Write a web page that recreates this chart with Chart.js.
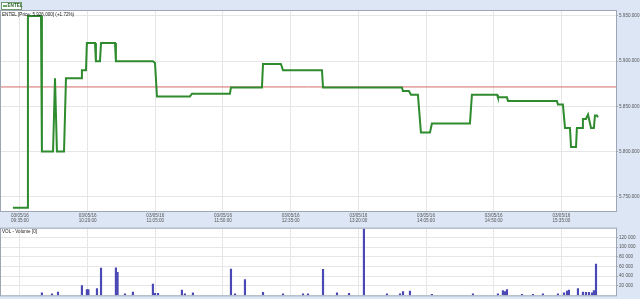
<!DOCTYPE html>
<html>
<head>
<meta charset="utf-8">
<script src="https://cdn.jsdelivr.net/npm/chart.js@4.4.1/dist/chart.umd.min.js"></script>
<style>
    html, body { margin: 0; padding: 0; background: #dce6f5; }
    #wrap { position: relative; width: 640px; height: 299px; overflow: hidden; }
    canvas { position: absolute; left: 0; }
    #priceChart { top: 0; }
    #volumeChart { top: 225px; }
</style>
</head>
<body>
<div id="wrap">
    <canvas id="priceChart" width="640" height="226"></canvas>
    <canvas id="volumeChart" width="640" height="74"></canvas>
</div>
<script>
// times are minutes since midnight, 03/05/16
const tradeDate = '03/05/16';
const tickTimes = [575, 620, 665, 710, 755, 800, 845, 890, 935];
const priceTicks = [5750, 5800, 5850, 5900, 5950];
const volumeTicks = [20000, 40000, 60000, 80000, 100000, 120000];

const priceTimes = [
    570.3, 579.7, 580.3, 589.0, 589.6, 597.0, 598.3, 599.6, 604.3, 605.6,
    615.6, 616.2, 618.9, 619.5, 624.9, 625.5, 628.2, 628.9, 638.2, 638.8,
    663.4, 664.8, 666.1, 688.0, 689.4, 714.6, 715.3, 735.9, 736.6, 748.5,
    749.9, 775.8, 776.5, 829.0, 829.6, 833.6, 835.0, 839.6, 841.6, 847.6,
    848.9, 874.2, 875.5, 892.2, 892.8, 898.8, 899.5, 932.0, 932.7, 936.0,
    937.4, 940.7, 941.4, 944.7, 945.3, 948.7, 949.3, 951.3, 952.7, 953.3,
    954.7, 956.6, 957.3, 958.6, 959.3
];
const prices = [
    5738, 5738, 5950, 5950, 5800, 5800, 5881, 5800, 5800, 5881,
    5881, 5890, 5890, 5920, 5920, 5900, 5900, 5920, 5920, 5900,
    5900, 5898, 5861, 5861, 5864, 5864, 5871, 5871, 5897, 5897,
    5890, 5890, 5871, 5871, 5867, 5867, 5863, 5863, 5821, 5821,
    5831, 5831, 5863, 5863, 5860, 5860, 5856, 5856, 5852, 5852,
    5826, 5826, 5805, 5805, 5826, 5826, 5836, 5836, 5841, 5841,
    5826, 5826, 5840, 5840, 5838
];
const refPrice = 5871.5;

const volumeTimes = [
    589.6, 596.3, 600.3, 616.2, 619.5, 620.5, 626.2, 628.9, 638.8, 639.9,
    644.8, 650.1, 663.4, 664.8, 666.8, 682.7, 684.7, 690.0, 715.3, 718.0,
    724.6, 736.6, 749.9, 763.2, 766.5, 776.5, 785.8, 793.8, 803.7, 819.0,
    827.7, 829.7, 834.3, 848.9, 876.2, 892.8, 896.1, 897.5, 898.8, 908.8,
    916.1, 922.7, 932.7, 936.7, 938.7, 940.0, 946.0, 949.3, 951.3, 953.3,
    955.3, 956.6, 958.0
];
const volumes = [
    5000, 3000, 7000, 20000, 12000, 12000, 14000, 56600, 57000, 47700,
    3000, 7000, 23400, 4000, 4000, 11000, 3000, 5000, 54500, 3000,
    32800, 6000, 3000, 3000, 3000, 53800, 5000, 4000, 140000, 3000,
    3000, 8000, 9000, 2000, 3000, 3000, 10000, 8000, 12000, 2000,
    2000, 3000, 3000, 5000, 9000, 11000, 14000, 7000, 6000, 6000,
    5000, 10000, 64700
];

const xMin = 562.4;
const xMax = 971.3;
const fontFamily = '"Liberation Sans", Arial, sans-serif';
const tinyFont = { family: fontFamily, size: 4.6, lineHeight: 1.15 };
const gridColor = '#e6e6e6';

function formatTime(minutes) {
    const h = Math.floor(minutes / 60);
    const m = Math.round(minutes % 60);
    return `${String(h).padStart(2, '0')}:${String(m).padStart(2, '0')}:00`;
}

function formatPrice(value) {
    const thousands = Math.floor(value / 1000);
    const rest = String(value % 1000).padStart(3, '0');
    return `${thousands}.${rest}.000`;
}

function formatVolume(value) {
    return value.toLocaleString('en-US').replace(/,/g, ' ');
}

const panelFrame = {
    id: 'panelFrame',
    beforeDraw(chart) {
        const { ctx, chartArea: a } = chart;
        ctx.save();
        ctx.fillStyle = '#ffffff';
        ctx.fillRect(a.left, a.top, a.right - a.left, a.bottom - a.top);
        ctx.restore();
    },
    afterDraw(chart, args, opts) {
        const { ctx, chartArea: a } = chart;
        ctx.save();
        ctx.strokeStyle = '#9ea6b4';
        ctx.lineWidth = 1;
        ctx.strokeRect(a.left - 0.5, a.top - 0.5, a.right - a.left + 1, a.bottom - a.top + 1);
        ctx.fillStyle = '#222222';
        ctx.font = `4.6px ${fontFamily}`;
        ctx.textBaseline = 'middle';
        ctx.fillText(opts.title, a.left + 1, a.top + 3.5);
        ctx.restore();
    }
};

const legendBox = {
    id: 'legendBox',
    afterDraw(chart) {
        const ctx = chart.ctx;
        const ds = chart.data.datasets[0];
        ctx.save();
        ctx.fillStyle = '#ffffff';
        ctx.fillRect(1.5, 2.5, 20, 7);
        ctx.strokeStyle = '#6f9a6f';
        ctx.lineWidth = 1;
        ctx.strokeRect(1.5, 2.5, 20, 7);
        ctx.strokeStyle = ds.borderColor;
        ctx.lineWidth = 1.5;
        ctx.beginPath();
        ctx.moveTo(3, 6);
        ctx.lineTo(7, 6);
        ctx.stroke();
        ctx.fillStyle = '#1f5f1f';
        ctx.font = `bold 4.6px ${fontFamily}`;
        ctx.textBaseline = 'middle';
        ctx.fillText(ds.label, 7.5, 6.2);
        ctx.restore();
    }
};

new Chart(document.getElementById('priceChart'), {
    type: 'line',
    data: {
        datasets: [
            {
                label: 'ENTEL',
                data: priceTimes.map((t, i) => ({ x: t, y: prices[i] })),
                borderColor: '#2e8b2e',
                borderWidth: 2,
                pointRadius: 0,
                tension: 0,
                order: 1,
            },
            {
                label: 'Reference',
                data: [{ x: xMin, y: refPrice }, { x: xMax, y: refPrice }],
                borderColor: '#d46a6a',
                borderWidth: 1,
                pointRadius: 0,
                order: 2,
            },
        ],
    },
    options: {
        responsive: false,
        animation: false,
        layout: { padding: { top: 11, left: 1, right: 0, bottom: 0 } },
        plugins: {
            legend: { display: false },
            tooltip: { enabled: false },
            panelFrame: { title: 'ENTEL [Price: 5.926,000] (+1.72%)' },
        },
        scales: {
            x: {
                type: 'linear',
                min: xMin,
                max: xMax,
                afterBuildTicks: (scale) => { scale.ticks = tickTimes.map((v) => ({ value: v })); },
                afterFit: (scale) => { scale.height = 15; },
                ticks: {
                    callback: (value) => [tradeDate, formatTime(value)],
                    font: tinyFont,
                    color: '#555555',
                    padding: 2,
                    maxRotation: 0,
                    autoSkip: false,
                },
                grid: { color: gridColor, drawTicks: false },
                border: { display: false },
            },
            y: {
                position: 'right',
                min: 5734.3,
                max: 5955.5,
                afterBuildTicks: (scale) => { scale.ticks = priceTicks.map((v) => ({ value: v })); },
                afterFit: (scale) => { scale.width = 24; },
                ticks: {
                    callback: (value) => formatPrice(value),
                    font: tinyFont,
                    color: '#555555',
                    padding: 1,
                },
                grid: { color: gridColor, tickLength: 2, tickColor: '#9ea6b4' },
                border: { display: false },
            },
        },
    },
    plugins: [panelFrame, legendBox],
});

new Chart(document.getElementById('volumeChart'), {
    type: 'bar',
    data: {
        datasets: [
            {
                label: 'VOL - Volume [0]',
                data: volumeTimes.map((t, i) => ({ x: t, y: volumes[i] })),
                backgroundColor: '#4a48b4',
                barThickness: 1.5,
            },
        ],
    },
    options: {
        responsive: false,
        animation: false,
        layout: { padding: { top: 1, left: 1, right: 0, bottom: 3 } },
        plugins: {
            legend: { display: false },
            tooltip: { enabled: false },
            panelFrame: { title: 'VOL - Volume [0]' },
        },
        scales: {
            x: {
                type: 'linear',
                min: xMin,
                max: xMax,
                offset: false,
                afterBuildTicks: (scale) => { scale.ticks = tickTimes.map((v) => ({ value: v })); },
                afterFit: (scale) => { scale.height = 0; },
                ticks: { display: false },
                grid: { color: gridColor, drawTicks: false, offset: false },
                border: { display: false },
            },
            y: {
                position: 'right',
                min: 0,
                max: 138000,
                afterBuildTicks: (scale) => { scale.ticks = volumeTicks.map((v) => ({ value: v })); },
                afterFit: (scale) => { scale.width = 24; },
                ticks: {
                    callback: (value) => formatVolume(value),
                    font: tinyFont,
                    color: '#555555',
                    padding: 1,
                },
                grid: { color: gridColor, tickLength: 2, tickColor: '#9ea6b4' },
                border: { display: false },
            },
        },
    },
    plugins: [panelFrame],
});
</script>
</body>
</html>
